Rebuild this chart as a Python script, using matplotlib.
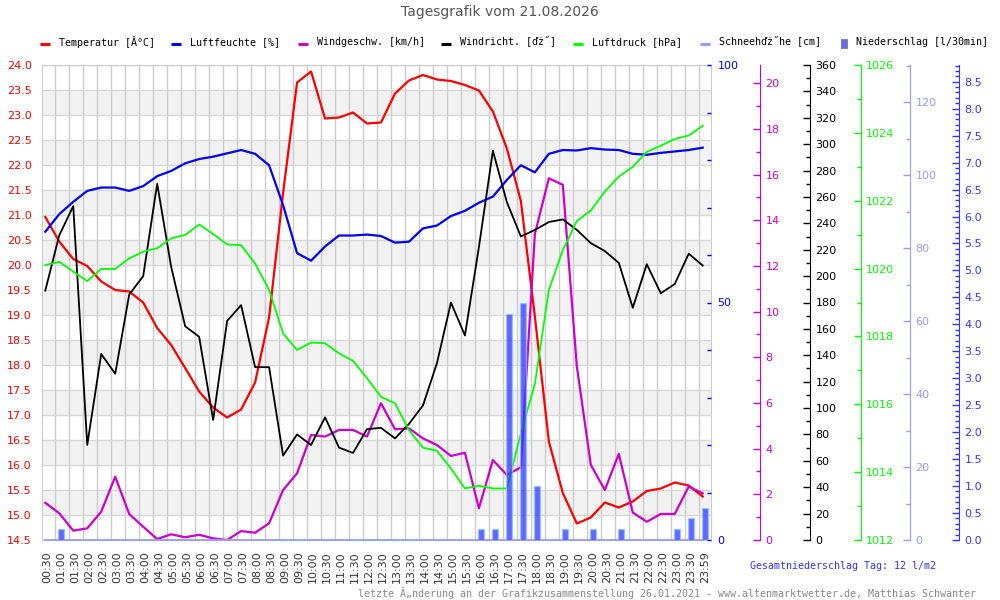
import numpy as np
import matplotlib
matplotlib.use("Agg")
import matplotlib.pyplot as plt
from matplotlib.lines import Line2D
from matplotlib.patches import Rectangle
from matplotlib.ticker import MultipleLocator, FormatStrFormatter


# ---------------------------------------------------------------------------
# DATA  (one value per half hour)
# ---------------------------------------------------------------------------
time_labels = [
    "00:30", "01:00", "01:30", "02:00", "02:30", "03:00", "03:30", "04:00",
    "04:30", "05:00", "05:30", "06:00", "06:30", "07:00", "07:30", "08:00",
    "08:30", "09:00", "09:30", "10:00", "10:30", "11:00", "11:30", "12:00",
    "12:30", "13:00", "13:30", "14:00", "14:30", "15:00", "15:30", "16:00",
    "16:30", "17:00", "17:30", "18:00", "18:30", "19:00", "19:30", "20:00",
    "20:30", "21:00", "21:30", "22:00", "22:30", "23:00", "23:30", "23:59",
]

temperature = [
    20.96, 20.47, 20.12, 19.98, 19.67, 19.50, 19.47, 19.25,
    18.74, 18.40, 17.94, 17.47, 17.15, 16.95, 17.11, 17.65,
    18.95, 21.44, 23.65, 23.87, 22.93, 22.95, 23.05, 22.83,
    22.85, 23.43, 23.69, 23.80, 23.71, 23.68, 23.60, 23.49,
    23.07, 22.33, 21.28, 18.97, 16.47, 15.44, 14.83, 14.95,
    15.25, 15.15, 15.27, 15.48, 15.53, 15.65, 15.59, 15.37,
]

humidity = [
    64.9, 68.6, 71.2, 73.5, 74.2, 74.2, 73.5, 74.5,
    76.6, 77.7, 79.3, 80.2, 80.7, 81.4, 82.1, 81.3,
    78.9, 70.5, 60.4, 58.8, 61.8, 64.1, 64.1, 64.3,
    64.0, 62.6, 62.8, 65.6, 66.2, 68.2, 69.3, 71.0,
    72.3, 75.8, 78.9, 77.4, 81.3, 82.1, 82.0, 82.5,
    82.2, 82.1, 81.3, 81.1, 81.5, 81.8, 82.1, 82.6,
]

wind_speed = [
    1.63, 1.17, 0.41, 0.51, 1.24, 2.77, 1.14, 0.58,
    0.04, 0.25, 0.12, 0.23, 0.07, 0.00, 0.39, 0.32,
    0.73, 2.19, 2.92, 4.60, 4.53, 4.82, 4.82, 4.53,
    5.99, 4.85, 4.89, 4.45, 4.16, 3.68, 3.82, 1.39,
    3.50, 2.85, 3.18, 13.40, 15.84, 15.55, 7.60, 3.29,
    2.19, 3.77, 1.20, 0.80, 1.14, 1.14, 2.34, 2.04,
]

wind_dir = [
    189, 231, 253, 72, 141, 126, 186, 200,
    270, 207, 162, 154, 91, 166, 178, 131,
    131, 64, 80, 72, 93, 70, 66, 84,
    85, 77, 88, 102, 134, 180, 155, 222,
    295, 256, 230, 235, 241, 243, 235, 225,
    219, 210, 176, 209, 187, 194, 217, 208,
]

pressure = [
    1020.10, 1020.20, 1019.91, 1019.63, 1019.99, 1019.99, 1020.30, 1020.50,
    1020.60, 1020.89, 1020.99, 1021.30, 1021.02, 1020.71, 1020.69, 1020.15,
    1019.37, 1018.09, 1017.60, 1017.82, 1017.80, 1017.50, 1017.28, 1016.77,
    1016.22, 1016.03, 1015.24, 1014.72, 1014.63, 1014.11, 1013.52, 1013.60,
    1013.52, 1013.52, 1015.14, 1016.60, 1019.37, 1020.55, 1021.40, 1021.71,
    1022.27, 1022.71, 1023.00, 1023.44, 1023.62, 1023.82, 1023.92, 1024.21,
]

snow_height = [
    0, 0, 0, 0, 0, 0, 0, 0,
    0, 0, 0, 0, 0, 0, 0, 0,
    0, 0, 0, 0, 0, 0, 0, 0,
    0, 0, 0, 0, 0, 0, 0, 0,
    0, 0, 0, 0, 0, 0, 0, 0,
    0, 0, 0, 0, 0, 0, 0, 0,
]

precip = [
    0.0, 0.2, 0.0, 0.0, 0.0, 0.0, 0.0, 0.0,
    0.0, 0.0, 0.0, 0.0, 0.0, 0.0, 0.0, 0.0,
    0.0, 0.0, 0.0, 0.0, 0.0, 0.0, 0.0, 0.0,
    0.0, 0.0, 0.0, 0.0, 0.0, 0.0, 0.0, 0.2,
    0.2, 4.2, 4.4, 1.0, 0.0, 0.2, 0.0, 0.2,
    0.0, 0.2, 0.0, 0.0, 0.0, 0.2, 0.4, 0.6,
]

total_precip = 12

C_TEMP = "#ff0000"
C_HUM = "#0000ff"
C_WIND = "#cc00cc"
C_DIR = "#000000"
C_PRES = "#00ff00"
C_SNOW = "#9999ff"
C_RAIN = "#3333ff"
MONO = "DejaVu Sans Mono"

W, H = 1000, 600


def fx(px):
    return px / W


def fy(py):
    return 1 - py / H


# ---------------------------------------------------------------------------
# FIGURE + MAIN (temperature) AXES
# ---------------------------------------------------------------------------
fig = plt.figure(figsize=(10, 6), dpi=100)
ax = fig.add_axes([fx(41.5), fy(540), fx(669.2), 475 / H])

x = np.arange(len(time_labels))
ax.set_xlim(-0.27, 47.57)
ax.set_ylim(14.5, 24.0)

# alternating grey bands + grid
for n in np.arange(15, 24):
    ax.axhspan(n, n + 0.5, color="#f2f2f2", zorder=0, lw=0)
ax.yaxis.set_major_locator(MultipleLocator(0.5))
ax.yaxis.set_major_formatter(FormatStrFormatter("%.1f"))
ax.yaxis.grid(True, color="#d8d8d8", lw=1)
ax.set_xticks(x + 0.15)
ax.set_xticklabels(time_labels, rotation=90)
ax.set_xticks(np.arange(1, 48) - 0.286, minor=True)
ax.xaxis.grid(True, which="minor", color="#cccccc", lw=1)
ax.set_axisbelow(True)
ax.tick_params(axis="x", which="both", length=0, pad=8, labelsize=8, labelcolor="#333333")
ax.tick_params(axis="y", length=0, pad=7, labelsize=8, labelcolor=C_TEMP)
for s in ax.spines.values():
    s.set_color("#cccccc")

ax.plot(x, temperature, color=C_TEMP, lw=1.6, zorder=3)


# ---------------------------------------------------------------------------
# EXTRA Y AXES ON THE RIGHT
# ---------------------------------------------------------------------------
def make_twin(pos, ylim, color, major, minor, fmt=None, spine=True, pad=4):
    t = ax.twinx()
    t.set_xlim(ax.get_xlim())
    t.set_ylim(*ylim)
    t.spines["right"].set_position(("axes", pos))
    t.spines["right"].set_color(color)
    t.spines["right"].set_visible(spine)
    for s in ["top", "left", "bottom"]:
        t.spines[s].set_visible(False)
    t.yaxis.set_major_locator(MultipleLocator(major))
    t.yaxis.set_minor_locator(MultipleLocator(minor))
    if fmt:
        t.yaxis.set_major_formatter(FormatStrFormatter(fmt))
    t.tick_params(axis="y", which="both", direction="in", colors=color,
                  labelsize=8, pad=pad, width=1)
    t.tick_params(axis="y", which="major", length=5)
    t.tick_params(axis="y", which="minor", length=3)
    return t


ax_hum = make_twin(1.0, (0, 100), C_HUM, 50, 10, spine=False, pad=5)
ax_hum.tick_params(axis="y", which="both", length=3)
ax_hum.plot(x, humidity, color=C_HUM, lw=1.6, zorder=3)

ax_wind = make_twin((760 - 41.5) / 669.2, (0, 20.8), C_WIND, 2, 1)
ax_wind.plot(x, wind_speed, color=C_WIND, lw=1.6, zorder=3)

ax_dir = make_twin((810 - 41.5) / 669.2, (0, 360), C_DIR, 20, 10)
ax_dir.plot(x, wind_dir, color=C_DIR, lw=1.3, zorder=3)

ax_pres = make_twin((860.5 - 41.5) / 669.2, (1012, 1026), C_PRES, 2, 1)
ax_pres.plot(x, pressure, color=C_PRES, lw=1.3, zorder=3)

ax_snow = make_twin((910 - 41.5) / 669.2, (0, 130.2), C_SNOW, 20, 10)
ax_snow.plot(x, snow_height, color=C_SNOW, lw=1.3, zorder=3, clip_on=False)

ax_rain = make_twin((959 - 41.5) / 669.2, (0, 8.81), C_RAIN, 0.5, 0.1, fmt="%.1f")
ax_rain.bar(x + 0.15, precip, width=0.42, color=C_RAIN, alpha=0.75,
            edgecolor="#88ccff", linewidth=1, zorder=4)


# ---------------------------------------------------------------------------
# TITLE, LEGEND ROW, FOOTER
# ---------------------------------------------------------------------------
fig.text(0.5, fy(12), "Tagesgrafik vom 21.08.2026", ha="center", va="center",
         fontsize=10, color="#555555")

legend_items = [
    (39.5, 58.7, C_TEMP, "Temperatur [Â°C]"),
    (171, 190, C_HUM, "Luftfeuchte [%]"),
    (298, 317, C_WIND, "Windgeschw. [km/h]"),
    (441, 460, C_DIR, "Windricht. [ďż˝]"),
    (573, 592, C_PRES, "Luftdruck [hPa]"),
    (700, 719, C_SNOW, "Schneehďż˝he [cm]"),
]
for mx, tx, col, label in legend_items:
    fig.add_artist(Line2D([fx(mx), fx(mx + 10)], [fy(44), fy(44)],
                          transform=fig.transFigure, color=col, lw=2.2,
                          solid_capstyle="butt"))
    fig.text(fx(tx), fy(42), label, ha="left", va="center", fontsize=7.2,
             family=MONO, color="#000000")
fig.add_artist(Rectangle((fx(841), fy(48)), fx(6), 9 / H, transform=fig.transFigure,
                         facecolor="#6666ff", edgecolor="#888888", lw=0.8))
fig.text(fx(856), fy(42), "Niederschlag [l/30min]", ha="left", va="center",
         fontsize=7.2, family=MONO, color="#000000")

fig.text(fx(750), fy(566), f"Gesamtniederschlag Tag: {total_precip} l/m2",
         ha="left", va="center", fontsize=7.2, family=MONO, color=C_RAIN)
fig.text(fx(976), fy(593),
         "letzte Ă„nderung an der Grafikzusammenstellung 26.01.2021 - "
         "www.altenmarktwetter.de, Matthias Schwanter",
         ha="right", va="center", fontsize=7.2, family=MONO, color="#888888")

fig.savefig("out.png", dpi=100)
